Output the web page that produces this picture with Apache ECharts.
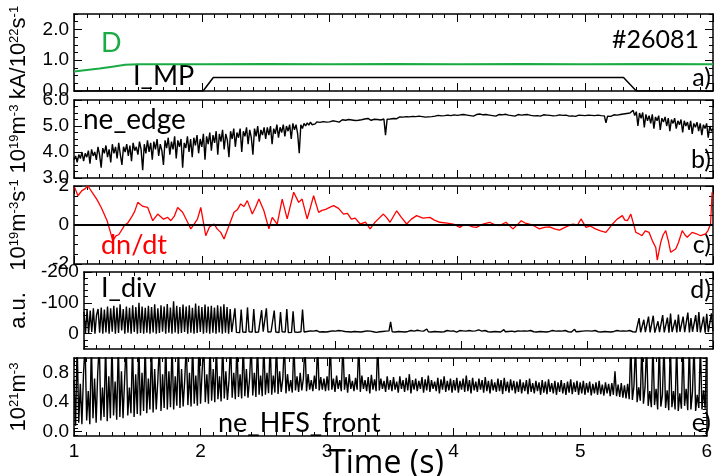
<!DOCTYPE html>
<html>
<head>
<meta charset="utf-8">
<script src="https://cdn.jsdelivr.net/npm/echarts@6/dist/echarts.min.js"></script>
<style>
  html, body { margin: 0; padding: 0; background: #fff; }
  #myChart { width: 715px; height: 476px; }
</style>
</head>
<body>
<div id="myChart"></div>
<script>
// shot #26081, time axis shared by all panels
const T0 = 1.0;
const DT = 0.0125;

// a) D puff rate (green) and I_MP (black)
const tD = [1.0, 1.1, 1.2, 1.3, 1.4, 1.5, 2.0, 2.5, 3.0, 3.5, 4.0, 4.5, 5.0, 5.5, 6.0];
const vD = [0.63, 0.68, 0.73, 0.79, 0.85, 0.87, 0.87, 0.88, 0.87, 0.88, 0.87, 0.88, 0.87, 0.88, 0.87];
const tMP = [1.0, 2.01, 2.09, 5.30, 5.40, 6.0];
const vMP = [0, 0, 0.44, 0.44, 0, 0];

// b) ne_edge, one value every DT from T0
const neEdge = [
  3.7, 3.85, 3.6, 3.9, 3.75, 4.0, 3.65, 3.95, 3.8, 4.05, 3.55, 4.1, 3.85, 4.0, 3.7, 4.2, 3.9, 3.4, 4.15, 3.95,
  4.25, 3.8, 4.1, 3.6, 4.3, 3.95, 4.2, 3.75, 4.35, 3.9, 3.5, 4.2, 4.0, 4.3, 3.85, 4.25, 3.65, 4.35, 4.05, 4.2,
  3.9, 4.4, 4.1, 3.3, 4.3, 3.95, 4.45, 4.0, 4.35, 3.7, 4.4, 4.1, 4.5, 3.85, 4.3, 4.05, 3.5, 4.45, 4.15, 4.55,
  3.9, 4.4, 4.1, 4.6, 3.75, 4.45, 4.2, 4.5, 3.4, 4.35, 4.15, 4.6, 4.0, 4.5, 3.8, 4.55, 4.25, 4.65, 3.95, 4.5,
  4.2, 4.7, 3.7, 4.6, 4.3, 4.75, 4.05, 4.65, 4.35, 4.8, 3.9, 4.7, 4.4, 4.85, 4.1, 4.7, 4.45, 3.8, 4.8, 4.5,
  4.9, 4.2, 4.75, 4.55, 4.9, 4.0, 4.8, 4.6, 4.95, 4.3, 4.85, 4.55, 3.9, 4.9, 4.6, 5.0, 4.4, 4.85, 4.65, 4.95,
  4.5, 4.95, 4.65, 5.0, 4.3, 4.9, 4.7, 5.05, 4.55, 4.95, 4.75, 5.05, 4.6, 5.0, 4.8, 5.05, 4.5, 5.1, 4.85, 5.05,
  4.7, 3.95, 5.05, 4.9, 5.1, 5.0, 5.12, 5.03, 5.15, 5.05, 5.12, 5.08, 5.16, 5.1, 5.14, 5.07, 5.17, 5.11, 5.15, 5.12,
  5.16, 5.1, 5.2, 5.13, 5.18, 5.22, 5.15, 5.2, 5.24, 5.17, 5.22, 5.19, 5.25, 5.2, 5.23, 5.27, 5.21, 5.25, 5.22, 5.28,
  5.24, 5.2, 5.27, 5.24, 5.29, 5.25, 5.22, 5.28, 5.26, 5.3, 5.25, 5.28, 5.23, 5.29, 5.27, 4.65, 5.26, 5.3, 5.27, 5.31,
  5.29, 5.33, 5.28, 5.32, 5.35, 5.3, 5.34, 5.31, 5.36, 5.32, 5.35, 5.3, 5.37, 5.33, 5.36, 5.34, 5.38, 5.32, 5.36, 5.39,
  5.34, 5.37, 5.35, 5.4, 5.36, 5.33, 5.38, 5.36, 5.41, 5.37, 5.39, 5.35, 5.4, 5.38, 5.42, 5.37, 5.4, 5.38, 5.43, 5.39,
  5.41, 5.38, 5.43, 5.4, 5.44, 5.39, 5.42, 5.45, 5.4, 5.43, 5.38, 5.42, 5.44, 5.4, 5.46, 5.41, 5.43, 5.39, 5.44, 5.41,
  5.42, 5.45, 5.4, 5.43, 5.38, 5.42, 5.44, 5.4, 5.43, 5.41, 5.45, 5.39, 5.42, 5.44, 5.4, 5.43, 5.38, 5.41, 5.44, 5.4,
  5.42, 5.39, 5.43, 5.4, 5.44, 5.38, 5.41, 5.43, 5.39, 5.42, 5.4, 5.44, 5.38, 5.41, 5.43, 5.39, 5.42, 5.37, 5.41, 5.43,
  5.39, 5.42, 5.4, 5.38, 5.43, 5.39, 5.41, 5.37, 5.42, 5.4, 5.38, 5.41, 5.39, 5.43, 5.37, 5.4, 5.42, 5.38, 5.41, 5.39,
  5.4, 5.37, 5.42, 5.38, 5.41, 5.36, 5.4, 5.38, 5.42, 5.37, 5.4, 5.35, 5.39, 5.12, 5.38, 5.41, 5.37, 5.4, 5.43, 5.38,
  5.42, 5.39, 5.44, 5.4, 5.46, 5.42, 5.48, 5.43, 5.5, 5.45, 5.6, 5.4, 5.55, 5.0, 5.5, 5.3, 5.52, 4.95, 5.45, 5.2,
  5.4, 5.1, 5.45, 4.9, 5.35, 5.2, 5.4, 4.85, 5.3, 5.15, 5.35, 5.0, 5.3, 4.8, 5.25, 5.1, 5.3, 4.9, 5.2, 5.05,
  5.25, 4.75, 5.2, 5.0, 5.15, 4.85, 5.2, 4.7, 5.1, 4.95, 5.15, 4.8, 5.1, 4.65, 5.05, 4.9, 5.1, 4.55, 5.0, 4.8,
  4.9
];

// c) dn/dt (red), read at irregular times
const tC = [1.005, 1.031, 1.06, 1.085, 1.109, 1.15, 1.18, 1.213, 1.26, 1.304, 1.33, 1.35, 1.394, 1.42, 1.45, 1.475,
  1.499, 1.52, 1.54, 1.577, 1.616, 1.655, 1.70, 1.733, 1.758, 1.785, 1.811, 1.85, 1.889, 1.914, 1.94, 1.966, 1.992,
  2.031, 2.06, 2.096, 2.12, 2.148, 2.174, 2.213, 2.252, 2.28, 2.304, 2.33, 2.356, 2.395, 2.42, 2.447, 2.486, 2.525,
  2.551, 2.59, 2.629, 2.668, 2.69, 2.719, 2.758, 2.785, 2.824, 2.85, 2.875, 2.914, 2.94, 2.97, 3.0, 3.031, 3.07,
  3.109, 3.14, 3.17, 3.2, 3.239, 3.28, 3.317, 3.35, 3.38, 3.421, 3.45, 3.473, 3.5, 3.525, 3.56, 3.603, 3.64, 3.681,
  3.73, 3.785, 3.82, 3.863, 3.92, 3.967, 4.019, 4.05, 4.08, 4.12, 4.149, 4.20, 4.252, 4.29, 4.33, 4.38, 4.434,
  4.47, 4.50, 4.53, 4.564, 4.60, 4.642, 4.68, 4.72, 4.76, 4.798, 4.85, 4.902, 4.94, 4.967, 5.006, 5.04, 5.08,
  5.12, 5.162, 5.19, 5.214, 5.25, 5.291, 5.31, 5.33, 5.357, 5.396, 5.42, 5.444, 5.47, 5.5, 5.525, 5.552, 5.564,
  5.591, 5.61, 5.63, 5.65, 5.669, 5.708, 5.73, 5.759, 5.78, 5.798, 5.837, 5.87, 5.903, 5.942, 5.96, 5.981, 5.993];
const vC = [1.93, 1.5, 1.75, 1.85, 2.0, 1.6, 1.3, 0.9, 0.2, -0.8, -0.55, -0.5, -0.03, 0.1, 0.4, 0.7,
  1.16, 1.05, 0.95, 0.9, 0.22, 0.56, 0.3, 0.39, 0.22, 0.45, 0.9, 0.65, 0.14, -0.2, 0.05, 0.3, 0.9,
  -0.55, -0.1, 0.05, -0.2, -0.38, -0.72, -0.03, 0.65, 0.8, 1.08, 0.95, 1.25, 0.56, 0.9, 1.33, 0.73, -0.2,
  0.39, 0.05, 1.33, 0.31, 0.9, 1.68, 1.16, 1.33, 0.31, 0.9, 1.5, 0.65, 0.75, 0.8, 0.9, 0.99, 0.85,
  0.56, 0.6, 0.3, 0.35, 0.05, 0.15, -0.2, 0.1, 0.3, 0.56, 0.35, 0.14, 0.45, 0.73, 0.4, 0.05, 0.3, 0.48,
  0.35, 0.39, 0.25, 0.14, 0.1, 0.05, -0.12, 0.02, 0.0, -0.1, -0.12, 0.05, 0.14, 0.02, -0.03, 0.14, -0.2,
  0.02, 0.22, 0.1, 0.05, -0.05, -0.2, -0.12, -0.1, -0.2, -0.26, -0.1, 0.05, 0.0, 0.31, -0.12, -0.05, -0.2,
  -0.3, -0.38, -0.15, 0.05, 0.3, 0.48, 0.25, 0.22, 0.56, -0.38, -0.45, -0.55, -0.3, -0.38, -0.8, -1.15, -1.8,
  -0.89, -0.5, -0.29, -0.8, -1.4, -1.23, -0.9, -0.29, -0.5, -0.63, -0.38, -0.45, -0.55, -0.46, -0.3, 0.05, 1.68, 1.33];

// d) I_div, one value every DT from T0 (negative = up)
const iDiv = [
  -70, -2, -78, 0, -75, -5, -82, 0, -60, -80, -3, -85, 0, -78, -4, -88, 0, -82, -6, -90,
  0, -85, -2, -95, -10, -80, 0, -88, -3, -84, 0, -92, -5, -86, 0, -100, -2, -88, 0, -84,
  -3, -90, 0, -86, -4, -95, 0, -82, -2, -92, -6, -88, 0, -96, -3, -85, 0, -105, -4, -90,
  0, -86, -2, -94, -5, -88, 0, -92, -3, -84, 0, -98, -2, -90, -5, -86, 0, -94, -3, -88,
  0, -90, -3, -85, 0, -92, -4, -88, 0, -95, -3, -86, 0, -80, -5, -8, -82, -4, -6, -3,
  -78, -5, -7, -4, -85, -6, -3, -5, -80, -4, -7, -5, -3, -76, -6, -4, -82, -5, -3, -6,
  -4, -75, -5, -7, -3, -70, -6, -4, -5, -80, -3, -6, -4, -72, -5, -7, -4, -3, -6, -78,
  -5, -4, -7, -6, -9, -5, -8, -6, -10, -7, -5, -9, -6, -8, -5, -10, -7, -6, -9, -5,
  -8, -5, -10, -6, -9, -4, -7, -11, -6, -8, -5, -9, -7, -12, -6, -8, -5, -10, -7, -6,
  -9, -5, -8, -11, -6, -7, -4, -9, -6, -10, -7, -5, -8, -6, -9, -38, -6, -8, -5, -9,
  -7, -10, -6, -8, -5, -9, -7, -6, -10, -5, -8, -7, -11, -6, -9, -5, -8, -7, -15, -6,
  -8, -5, -9, -7, -10, -6, -8, -5, -9, -6, -7, -10, -5, -8, -6, -9, -7, -5, -8, -10,
  -6, -9, -5, -8, -7, -10, -6, -8, -5, -9, -7, -12, -6, -8, -5, -10, -7, -6, -9, -5,
  -8, -7, -10, -6, -9, -5, -8, -13, -6, -9, -7, -5, -8, -10, -6, -7, -9, -5, -8, -6,
  -9, -6, -8, -5, -10, -7, -6, -9, -5, -8, -7, -10, -6, -8, -5, -9, -7, -6, -10, -5,
  -8, -7, -9, -6, -8, -5, -10, -7, -6, -9, -5, -8, -14, -6, -9, -7, -5, -8, -6, -9,
  -7, -9, -6, -8, -5, -10, -7, -6, -9, -5, -8, -7, -10, -6, -8, -5, -9, -7, -6, -10,
  -5, -8, -7, -9, -6, -8, -5, -10, -7, -6, -9, -5, -8, -50, -4, -7, -45, -5, -8, -55,
  -4, -6, -58, -3, -7, -40, -5, -8, -60, -4, -6, -52, -3, -65, -5, -7, -45, -4, -62, -6,
  -3, -55, -5, -8, -68, -4, -50, -6, -3, -60, -5, -70, -4, -7, -55, -3, -64, -5, -8, -66,
  -8
];

// e) ne_HFS_front, one value every DT from T0 (values above 1 run off the top)
const neHfs = [
  0.7, 0.08, 1.2, 0.12, 0.65, 0.1, 0.78, 1.2, 0.15, 0.55, 0.1, 1.2, 0.18, 0.72, 0.12, 0.8, 1.2, 0.15, 0.6, 0.2,
  1.2, 0.14, 0.75, 0.18, 1.2, 0.22, 0.68, 0.16, 1.2, 0.2, 0.82, 0.18, 0.7, 1.2, 0.22, 0.6, 0.25, 1.2, 0.2, 0.78,
  0.24, 1.2, 0.22, 0.8, 0.28, 1.2, 0.25, 0.72, 0.3, 1.2, 0.26, 0.85, 0.3, 0.7, 1.2, 0.28, 0.78, 0.32, 1.2, 0.3,
  0.82, 0.33, 1.2, 0.3, 0.75, 0.35, 1.2, 0.32, 0.85, 0.34, 0.7, 1.2, 0.36, 0.8, 0.34, 1.2, 0.38, 0.76, 0.35, 1.2,
  0.38, 0.82, 1.2, 0.4, 0.78, 0.38, 1.2, 0.42, 0.85, 0.4, 1.2, 0.44, 0.75, 0.41, 1.2, 0.45, 0.82, 0.43, 0.7, 1.2,
  0.46, 0.8, 0.44, 1.2, 0.47, 0.78, 0.45, 1.2, 0.48, 0.85, 0.46, 0.72, 1.2, 0.49, 0.8, 0.47, 1.2, 0.5, 0.76, 0.48,
  1.2, 0.5, 0.8, 0.52, 1.2, 0.5, 0.76, 0.53, 1.2, 0.51, 0.82, 0.54, 0.72, 1.2, 0.52, 0.78, 0.55, 0.7, 0.53, 1.2,
  0.56, 0.75, 0.54, 0.8, 0.56, 0.72, 1.2, 0.55, 0.78, 0.57, 0.7, 0.55, 0.76, 0.58, 1.2, 0.56, 0.74, 0.57, 0.72, 0.55,
  0.75, 0.56, 1.2, 0.57, 0.72, 0.54, 0.76, 0.58, 0.7, 0.55, 1.2, 0.57, 0.74, 0.53, 0.78, 0.58, 0.69, 0.55, 0.73, 0.57,
  1.2, 0.54, 0.76, 0.58, 0.7, 0.55, 0.74, 0.52, 0.77, 0.57, 0.71, 0.55, 1.2, 0.56, 0.72, 0.58, 0.69, 0.54, 0.75, 0.57,
  0.7, 0.55, 0.74, 0.57, 0.68, 0.53, 0.75, 0.58, 0.7, 0.54, 0.73, 0.56, 0.78, 0.52, 0.7, 0.57, 0.72, 0.55, 0.69, 0.58,
  0.74, 0.53, 0.71, 0.56, 0.76, 0.54, 0.7, 0.58, 0.68, 0.55, 0.73, 0.52, 0.71, 0.57, 0.75, 0.54, 0.69, 0.56, 0.72, 0.53,
  0.7, 0.56, 0.73, 0.53, 0.69, 0.57, 0.72, 0.54, 0.76, 0.55, 0.7, 0.52, 0.73, 0.56, 0.68, 0.54, 0.72, 0.57, 0.7, 0.53,
  0.74, 0.55, 0.69, 0.52, 0.71, 0.56, 0.67, 0.54, 0.72, 0.55, 0.7, 0.51, 0.73, 0.55, 0.68, 0.53, 0.71, 0.56, 0.69, 0.52,
  0.68, 0.54, 0.71, 0.52, 0.67, 0.55, 0.7, 0.51, 0.72, 0.54, 0.66, 0.52, 0.69, 0.55, 0.67, 0.5, 0.7, 0.53, 0.68, 0.51,
  0.71, 0.54, 0.66, 0.52, 0.69, 0.5, 0.67, 0.54, 0.7, 0.52, 0.66, 0.5, 0.68, 0.53, 0.71, 0.51, 0.67, 0.54, 0.69, 0.5,
  0.67, 0.52, 0.69, 0.5, 0.66, 0.53, 0.68, 0.49, 0.65, 0.52, 0.67, 0.5, 0.69, 0.51, 0.64, 0.49, 0.67, 0.52, 0.65, 0.48,
  0.66, 0.5, 0.82, 0.48, 0.64, 0.47, 0.66, 0.46, 0.63, 0.45, 0.65, 0.44, 1.2, 0.43, 0.62, 1.2, 0.4, 0.6, 0.42, 1.2,
  0.38, 0.6, 1.2, 0.35, 0.55, 0.33, 1.2, 0.36, 0.58, 0.3, 1.2, 0.34, 0.5, 1.2, 0.32, 0.56, 0.29, 1.2, 0.33, 0.55,
  0.3, 1.2, 0.28, 0.52, 0.31, 1.2, 0.35, 0.58, 0.29, 1.2, 0.3, 0.54, 1.2, 0.28, 0.5, 0.32, 1.2, 0.3, 0.56, 0.31,
  1.2
];

// axis ticks / labels
const xTicks = [1, 2, 3, 4, 5, 6];
const yLabelsA = [0, 1, 2];
const yLabelsB = [3, 4, 5, 6];
const yLabelsC = [-2, 0, 2];
const yLabelsD = [-200, -100, 0];
const yLabelsE = [0, 0.4, 0.8];

const FONT = 'Liberation Sans, Arial, sans-serif';
const TXT = 'Lato, Open Sans, sans-serif';
const GREEN = '#1aab45';

const pairs = (ts, vs) => vs.map((v, i) => [ts[i], v]);
const even = (vs) => vs.map((v, i) => [+(T0 + i * DT).toFixed(4), v]);

const panels = [
  { top: 14, height: 77, min: 0, max: 2.5, labels: yLabelsA, fmt: v => v.toFixed(1), minor: 0.25,
    name: '{b|kA/10}{s|22}{b|s}{s|-1}' },
  { top: 100, height: 78, min: 3, max: 6, labels: yLabelsB, fmt: v => v.toFixed(1), minor: 0.25,
    name: '{b|10}{s|19}{b|m}{s|-3}' },
  { top: 186, height: 78, min: -2, max: 2, labels: yLabelsC, fmt: v => String(v), minor: 0.5,
    name: '{b|10}{s|19}{b|m}{s|-3}{b|s}{s|-1}' },
  { top: 272, height: 77, min: -200, max: 50, labels: yLabelsD, fmt: v => String(v), minor: 20, inverse: true,
    name: '{b|a.u.}' },
  { top: 358, height: 78, min: -0.06, max: 1.0, labels: yLabelsE, fmt: v => v.toFixed(1), minor: 0.05,
    name: '{b|10}{s|21}{b|m}{s|-3}' }
];

const minorValues = (p) => {
  const out = [];
  const start = Math.ceil(p.min / p.minor - 1e-9);
  for (let k = start; k * p.minor <= p.max + 1e-9; k++) {
    const v = +(k * p.minor).toFixed(4);
    if (!p.labels.includes(v)) out.push(v);
  }
  return out;
};

const grid = [];
const xAxis = [];
const yAxis = [];
panels.forEach((p, i) => {
  grid.push({ left: 73, width: 640, top: p.top, height: p.height });
  const last = i === panels.length - 1;
  ['bottom', 'top'].forEach(pos => {
    xAxis.push({
      type: 'value', gridIndex: i, position: pos, min: 1, max: 6, interval: 1,
      axisLine: { show: true, onZero: false, lineStyle: { color: '#000', width: 1.5 } },
      axisTick: { show: true, inside: true, length: 8, lineStyle: { color: '#000', width: 1 } },
      minorTick: { show: true, splitNumber: 10, length: 4, lineStyle: { color: '#000', width: 1 } },
      axisLabel: { show: last && pos === 'bottom', color: '#000', fontSize: 19, fontFamily: FONT, margin: 6,
        customValues: xTicks },
      splitLine: { show: false }
    });
  });
  const common = { type: 'value', gridIndex: i, min: p.min, max: p.max, inverse: !!p.inverse,
    splitLine: { show: false } };
  yAxis.push(Object.assign({}, common, {
    position: 'left',
    name: p.name, nameLocation: 'middle', nameRotate: 90, nameGap: 44,
    nameTextStyle: { color: '#000', rich: {
      b: { fontSize: 22, fontFamily: FONT, color: '#000' },
      s: { fontSize: 13, fontFamily: FONT, color: '#000', verticalAlign: 'top' }
    } },
    axisLine: { show: true, onZero: false, lineStyle: { color: '#000', width: 1.5 } },
    axisTick: { show: true, inside: true, length: 8, customValues: p.labels, lineStyle: { color: '#000' } },
    axisLabel: { show: true, customValues: p.labels, formatter: p.fmt, color: '#000', fontSize: 19,
      fontFamily: FONT, margin: 5 }
  }));
  yAxis.push(Object.assign({}, common, {
    position: 'right',
    axisLine: { show: true, onZero: false, lineStyle: { color: '#000', width: 1.5 } },
    axisTick: { show: true, inside: true, length: 8, customValues: p.labels, lineStyle: { color: '#000' } },
    axisLabel: { show: false }
  }));
  ['left', 'right'].forEach(pos => {
    yAxis.push(Object.assign({}, common, {
      position: pos,
      axisLine: { show: false },
      axisTick: { show: true, inside: true, length: 4, customValues: minorValues(p), lineStyle: { color: '#000' } },
      axisLabel: { show: false }
    }));
  });
});

const line = (gi, data, color, width) => ({
  type: 'line', xAxisIndex: gi * 2, yAxisIndex: gi * 4, data,
  showSymbol: false, symbol: 'none', animation: false, clip: true,
  lineStyle: { color, width }
});

const dndt = line(2, pairs(tC, vC), '#ff0000', 1.3);
dndt.markLine = {
  silent: true, symbol: 'none', animation: false, label: { show: false },
  lineStyle: { color: '#000', width: 2, type: 'solid' },
  data: [{ yAxis: 0 }]
};

const series = [
  line(0, pairs(tD, vD), GREEN, 2),
  line(0, pairs(tMP, vMP), '#000', 1.5),
  line(1, even(neEdge), '#000', 1.4),
  dndt,
  line(3, even(iDiv), '#000', 1.4),
  line(4, even(neHfs), '#000', 1.4)
];

const txt = (text, x, y, size, fill, align, family) => ({
  type: 'text', x, y, silent: true,
  style: { text, font: size + 'px ' + (family || TXT), fill: fill || '#000', align: align || 'left', verticalAlign: 'middle' }
});

const graphic = [
  txt('D', 101, 43, 27, GREEN),
  txt('#26081', 612, 40, 25),
  txt('I_MP', 133, 76, 27),
  txt('ne_edge', 83, 120, 28),
  txt('dn/dt', 101, 245, 27, '#ff0000'),
  txt('I_div', 101, 288, 27),
  txt('ne_HFS_front', 218, 423, 27),
  txt('a)', 711, 78, 25, '#000', 'right'),
  txt('b)', 711, 160, 25, '#000', 'right'),
  txt('c)', 711, 245, 25, '#000', 'right'),
  txt('d)', 711, 290, 25, '#000', 'right'),
  txt('e)', 711, 423, 25, '#000', 'right'),
  txt('Time (s)', 386, 464, 32, '#000', 'center', 'Open Sans, sans-serif')
];

const myChart = echarts.init(document.getElementById('myChart'), null, { renderer: 'canvas' });
myChart.setOption({
  backgroundColor: '#fff',
  animation: false,
  grid, xAxis, yAxis, series, graphic
});
</script>
</body>
</html>
